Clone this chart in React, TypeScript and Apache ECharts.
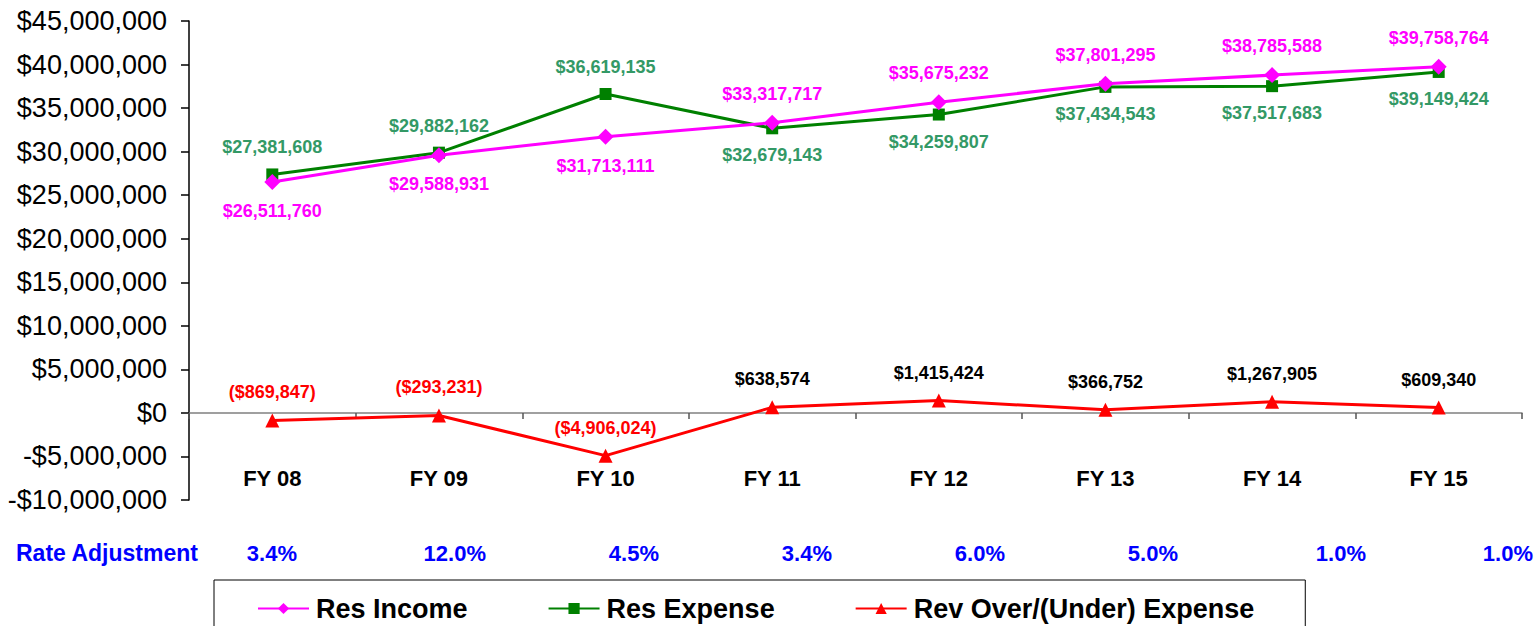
import React, { useEffect, useRef } from "react";
import * as echarts from "echarts";

const categories = ["FY 08", "FY 09", "FY 10", "FY 11", "FY 12", "FY 13", "FY 14", "FY 15"];
const resIncome = [26511760, 29588931, 31713111, 33317717, 35675232, 37801295, 38785588, 39758764];
const resExpense = [27381608, 29882162, 36619135, 32679143, 34259807, 37434543, 37517683, 39149424];
const revOverUnder = [-869847, -293231, -4906024, 638574, 1415424, 366752, 1267905, 609340];
const rateAdjustments = ["3.4%", "12.0%", "4.5%", "3.4%", "6.0%", "5.0%", "1.0%", "1.0%"];
const rateLabel = "Rate Adjustment";

const incomeLabelPos = ["bottom", "bottom", "bottom", "top", "top", "top", "top", "top"];
const expenseLabelPos = ["top", "top", "top", "bottom", "bottom", "bottom", "bottom", "bottom"];
const rateRightEdges = [297, 486, 659, 832, 1005, 1178, 1366, 1533];

const FONT = "'Liberation Sans', Arial, Helvetica, sans-serif";

const fmt = (v: number) => Math.abs(v).toLocaleString("en-US");
const money = (v: number) => (v < 0 ? "-$" : "$") + fmt(v);
const moneyParen = (v: number) => (v < 0 ? "($" + fmt(v) + ")" : "$" + fmt(v));

export default function App() {
  const ref = useRef<HTMLDivElement>(null);
  useEffect(() => {
    if (!ref.current) return;
    const chart = echarts.init(ref.current, null, { renderer: "svg" });
    const labelBase = {
      show: true,
      fontFamily: FONT,
      fontWeight: "bold" as const,
      fontSize: 18,
      distance: 12,
    };
    const option = {
      animation: false,
      backgroundColor: "#ffffff",
      textStyle: { fontFamily: FONT },
      grid: { left: 189, right: 15, top: 21, bottom: 126, containLabel: false },
      legend: {
        left: 214,
        top: 580,
        padding: [15, 51, 14, 43],
        borderColor: "#000000",
        borderWidth: 1,
        itemWidth: 51,
        itemHeight: 14,
        itemGap: 80,
        textStyle: { fontFamily: FONT, fontWeight: "bold", fontSize: 27, color: "#000000", padding: [0, 0, 0, 2] },
        data: ["Res Income", "Res Expense", "Rev Over/(Under) Expense"],
      },
      xAxis: {
        type: "category",
        data: categories,
        boundaryGap: true,
        axisLine: { onZero: true, lineStyle: { color: "#808080", width: 1.5 } },
        axisTick: { show: true, length: 6, lineStyle: { color: "#555555", width: 1.5 } },
        axisLabel: {
          interval: 0,
          margin: -33,
          fontFamily: FONT,
          fontWeight: "bold",
          fontSize: 22,
          color: "#000000",
        },
        splitLine: { show: false },
      },
      yAxis: {
        type: "value",
        min: -10000000,
        max: 45000000,
        interval: 5000000,
        axisLine: { show: true, lineStyle: { color: "#000000", width: 1.5 } },
        axisTick: { show: true, length: 8, lineStyle: { color: "#000000", width: 1.5 } },
        axisLabel: {
          margin: 22,
          fontFamily: FONT,
          fontSize: 27,
          color: "#000000",
          formatter: (v: number) => money(v),
        },
        splitLine: { show: false },
      },
      series: [
        {
          name: "Res Income",
          type: "line",
          data: resIncome.map((v, i) => ({ value: v, label: { position: incomeLabelPos[i] } })),
          symbol: "diamond",
          symbolSize: 16,
          lineStyle: { color: "#FF00FF", width: 3 },
          itemStyle: { color: "#FF00FF" },
          label: { ...labelBase, color: "#FF00FF", formatter: (p: any) => money(p.value) },
          z: 3,
        },
        {
          name: "Res Expense",
          type: "line",
          data: resExpense.map((v, i) => ({ value: v, label: { position: expenseLabelPos[i] } })),
          symbol: "rect",
          symbolSize: 12,
          lineStyle: { color: "#008000", width: 3 },
          itemStyle: { color: "#008000" },
          label: { ...labelBase, color: "#339966", formatter: (p: any) => money(p.value) },
          z: 2,
        },
        {
          name: "Rev Over/(Under) Expense",
          type: "line",
          data: revOverUnder.map((v) => ({
            value: v,
            label: { position: "top", color: v < 0 ? "#FF0000" : "#000000" },
          })),
          symbol: "triangle",
          symbolSize: 14,
          lineStyle: { color: "#FF0000", width: 3 },
          itemStyle: { color: "#FF0000" },
          label: { ...labelBase, formatter: (p: any) => moneyParen(p.value) },
          z: 4,
        },
      ],
      graphic: [
        {
          type: "text",
          left: 16,
          top: 541,
          style: {
            text: rateLabel,
            fontFamily: FONT,
            fontWeight: "bold",
            fontSize: 23,
            fill: "#0000FF",
          },
        },
        ...rateAdjustments.map((r, i) => ({
          type: "text",
          x: rateRightEdges[i],
          y: 553,
          style: {
            text: r,
            fontFamily: FONT,
            fontWeight: "bold",
            fontSize: 22,
            fill: "#0000FF",
            align: "right",
            verticalAlign: "middle",
          },
        })),
      ],
    };
    chart.setOption(option as any);
    return () => chart.dispose();
  }, []);
  return (
    <div
      ref={ref}
      style={{ position: "fixed", left: 0, top: 0, width: 1537, height: 626, background: "#fff" }}
    />
  );
}
